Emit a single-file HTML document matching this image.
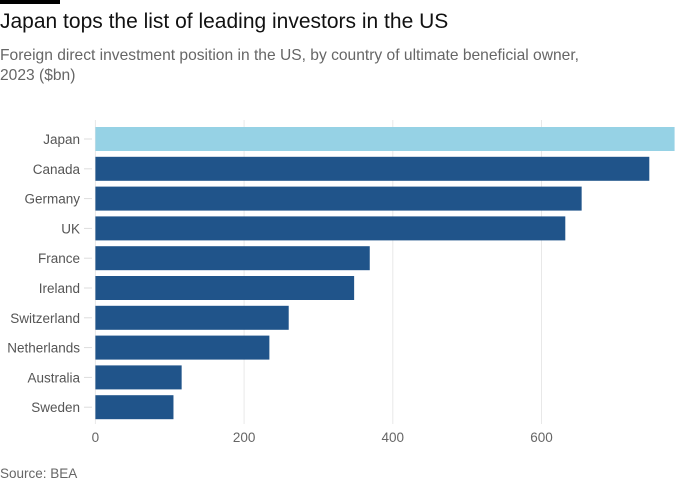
<!DOCTYPE html>
<html><head><meta charset="utf-8"><style>
body{margin:0;background:#fff;font-family:"Liberation Sans",sans-serif;}
#wrap{position:relative;width:700px;height:500px;overflow:hidden;}
.t{position:absolute;left:0;}
</style></head><body>
<div id="wrap">
<div class="t" style="top:0;width:60px;height:4px;background:#000"></div>
<div class="t" style="top:10px;font-size:21px;color:#111">Japan tops the list of leading investors in the US</div>
<div class="t" style="top:46px;font-size:15.6px;color:#666;line-height:20px;width:690px">Foreign direct investment position in the US, by country of ultimate beneficial owner,<br>2023 ($bn)</div>
<svg id="chart" width="700" height="460" style="position:absolute;top:0;left:0"></svg>
<div class="t" style="top:466px;font-size:13.5px;color:#666">Source: BEA</div>
</div>
<script>
const categories=["Japan","Canada","Germany","UK","France","Ireland","Switzerland","Netherlands","Australia","Sweden"];
const values=[779,745,654,632,369,348,260,234,116,105];
const ticks=[0,200,400,600];
const NS="http://www.w3.org/2000/svg";
const svg=document.getElementById('chart');
const x0=95.4,k=0.7435,top0=127,step=29.8,bh=24;
const xs=v=>x0+v*k;
const ys=i=>top0+i*step;
function mk(t,a){const e=document.createElementNS(NS,t);for(const n in a)e.setAttribute(n,a[n]);svg.appendChild(e);return e;}
ticks.forEach(t=>{
  const g=mk('line',{x1:xs(t),x2:xs(t),y1:120,y2:424,stroke:'#e8e8e8','stroke-width':1});
  
  
  const l=mk('text',{x:xs(t),y:442,'text-anchor':'middle','font-size':13.5,fill:'#666','font-family':'Liberation Sans, sans-serif'});
  l.textContent=t;
  
  
});
categories.forEach((c,i)=>{
  const r=mk('rect',{x:xs(0),y:ys(i),width:xs(values[i])-xs(0),height:bh,fill:i===0?'#96d2e5':'#20548a'});
  
  
  const tk=mk('line',{x1:84,x2:92,y1:ys(i)+bh/2,y2:ys(i)+bh/2,stroke:'#ddd'});
  
  
  const l=mk('text',{x:80,y:ys(i)+bh/2+5,'text-anchor':'end','font-size':13.5,fill:'#555','font-family':'Liberation Sans, sans-serif'});
  l.textContent=c;
  
  
});
</script>
</body></html>
